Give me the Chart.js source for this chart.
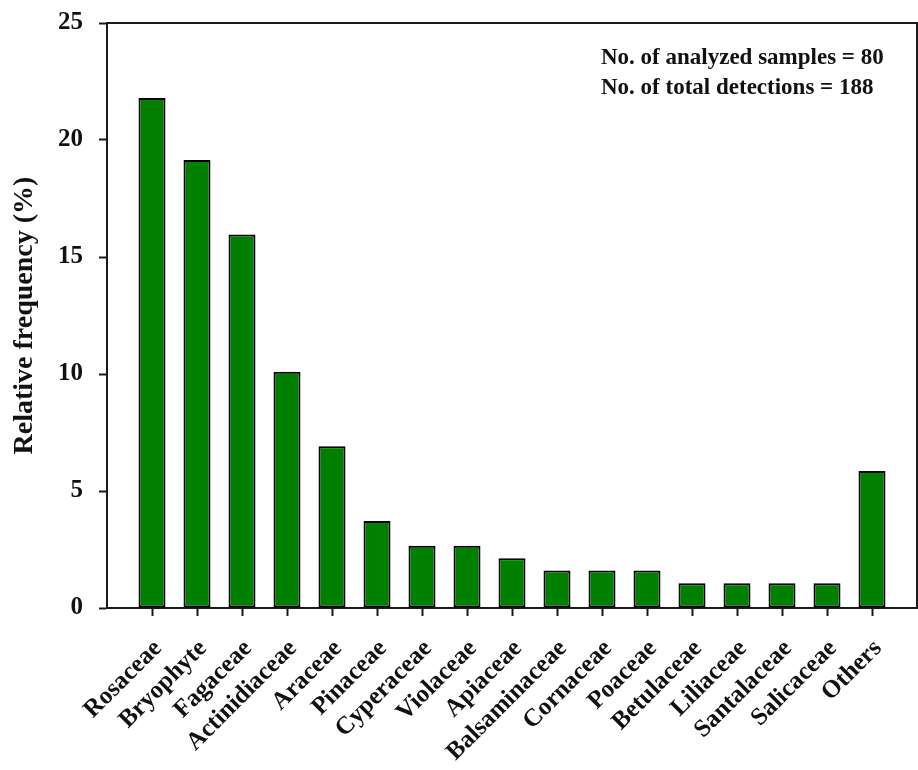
<!DOCTYPE html>
<html>
<head>
<meta charset="utf-8">
<script src="https://cdn.jsdelivr.net/npm/chart.js@4"></script>
<style>
  html, body { margin: 0; padding: 0; background: #fff; }
  #wrapper { width: 918px; height: 770px; position: relative; }
</style>
</head>
<body>
<div id="wrapper"><canvas id="canvas"></canvas></div>
<script>
// plant families detected and their relative frequency (%)
var families = ['Rosaceae', 'Bryophyte', 'Fagaceae', 'Actinidiaceae', 'Araceae', 'Pinaceae',
  'Cyperaceae', 'Violaceae', 'Apiaceae', 'Balsaminaceae', 'Cornaceae', 'Poaceae',
  'Betulaceae', 'Liliaceae', 'Santalaceae', 'Salicaceae', 'Others'];
var frequency = [21.8, 19.15, 15.96, 10.1, 6.91, 3.72, 2.66, 2.66, 2.13, 1.6, 1.6, 1.6,
  1.06, 1.06, 1.06, 1.06, 5.85];
var yTicks = [0, 5, 10, 15, 20, 25];
var notes = ['No. of analyzed samples = 80', 'No. of total detections = 188'];

var serif = "'Liberation Serif', 'Times New Roman', serif";
var axisColor = '#1a1a1a';

var points = [];
for (var i = 0; i < families.length; i++) {
  points.push({x: i + 1, y: frequency[i]});
}

// top/right frame lines and the sample note
var framePlugin = {
  id: 'frame',
  afterDraw: function(chart) {
    var ctx = chart.ctx;
    var a = chart.chartArea;
    ctx.save();
    ctx.strokeStyle = axisColor;
    ctx.lineWidth = 2;
    ctx.beginPath();
    ctx.moveTo(a.left, a.top);
    ctx.lineTo(a.right, a.top);
    ctx.lineTo(a.right, a.bottom);
    ctx.stroke();

    ctx.fillStyle = '#111';
    ctx.font = 'bold 23px ' + serif;
    ctx.textBaseline = 'middle';
    ctx.textAlign = 'left';
    ctx.fillText(notes[0], a.left + 494, a.top + 35);
    ctx.fillText(notes[1], a.left + 494, a.top + 65);
    ctx.restore();
  }
};

var ctx = document.getElementById('canvas');
var myChart = new Chart(ctx, {
  type: 'bar',
  data: {
    datasets: [{
      data: points,
      backgroundColor: '#008000',
      borderColor: '#000',
      borderWidth: 2,
      borderSkipped: false,
      categoryPercentage: 1,
      barPercentage: 0.6
    }]
  },
  options: {
    responsive: true,
    maintainAspectRatio: false,
    animation: false,
    layout: {padding: {top: 23, right: 1, left: 0, bottom: 0}},
    plugins: {legend: {display: false}, tooltip: {enabled: false}},
    scales: {
      x: {
        type: 'linear',
        offset: false,
        min: 0,
        max: families.length + 1,
        afterBuildTicks: function(axis) {
          axis.ticks = families.map(function(f, i) { return {value: i + 1}; });
        },
        afterFit: function(scale) { scale.height = 162; },
        ticks: {
          autoSkip: false,
          minRotation: 45,
          maxRotation: 45,
          padding: 18,
          labelOffset: 6,
          color: '#111',
          font: {family: serif, size: 25, weight: 'bold'},
          callback: function(v) { return families[v - 1]; }
        },
        grid: {offset: false, drawOnChartArea: false, tickLength: 8, tickWidth: 2, tickColor: axisColor},
        border: {color: axisColor, width: 2}
      },
      y: {
        min: 0,
        max: 25,
        afterBuildTicks: function(axis) {
          axis.ticks = yTicks.map(function(v) { return {value: v}; });
        },
        afterFit: function(scale) {
          scale.width = 107;
          scale.paddingTop = 0;
          scale.paddingBottom = 0;
        },
        ticks: {
          padding: 16,
          color: '#111',
          font: {family: serif, size: 25, weight: 'bold'}
        },
        grid: {drawOnChartArea: false, tickLength: 8, tickWidth: 2, tickColor: axisColor},
        border: {color: axisColor, width: 2},
        title: {
          display: true,
          text: 'Relative frequency (%)',
          color: '#111',
          padding: {top: 8, bottom: 0},
          font: {family: serif, size: 28, weight: 'bold'}
        }
      }
    }
  },
  plugins: [framePlugin]
});
</script>
</body>
</html>
